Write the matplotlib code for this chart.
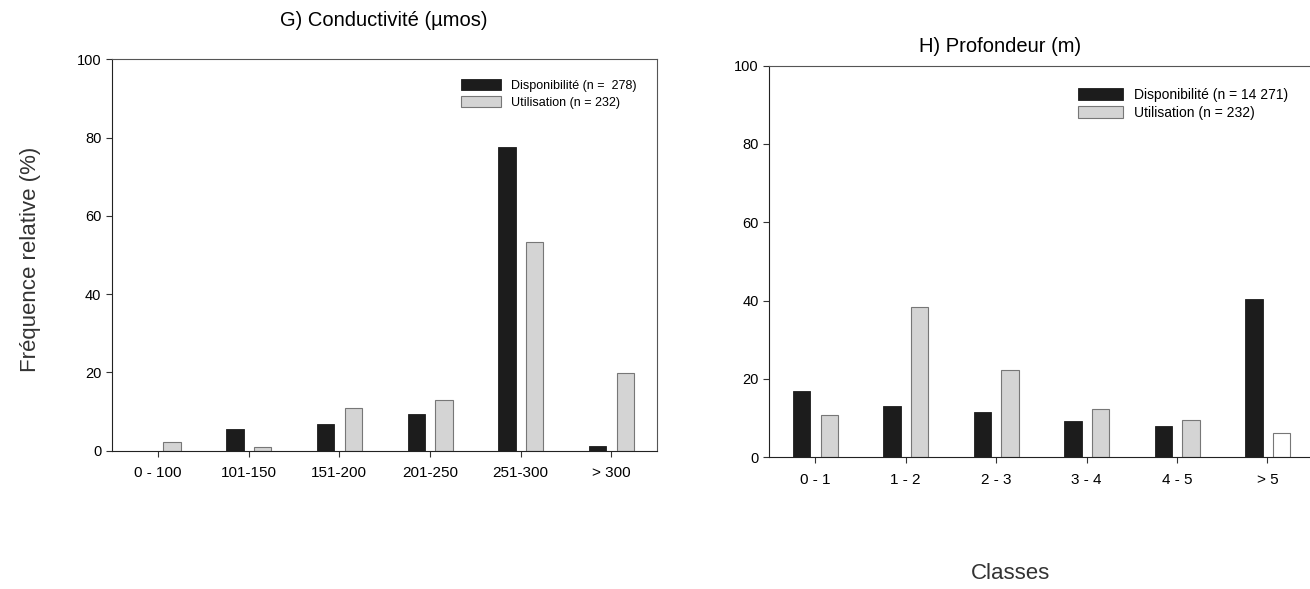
import numpy as np
import matplotlib.pyplot as plt

plt.rcParams['font.family'] = ['Liberation Sans', 'DejaVu Sans']

# G) Conductivité
classes_g = ['0 - 100', '101-150', '151-200', '201-250', '251-300', '> 300']
dispo_g = [0, 5.5, 6.8, 9.5, 77.5, 1.2]
util_g = [2.3, 1.0, 11.0, 13.0, 53.3, 19.8]

# H) Profondeur
classes_h = ['0 - 1', '1 - 2', '2 - 3', '3 - 4', '4 - 5', '> 5']
dispo_h = [17.0, 13.0, 11.5, 9.3, 8.1, 40.5]
util_h = [10.8, 38.5, 22.3, 12.4, 9.4, 6.2]

fig = plt.figure(figsize=(13.1, 5.89), dpi=100)
ax1 = fig.add_axes([0.0853, 0.2348, 0.416, 0.6645])
ax2 = fig.add_axes([0.587, 0.2236, 0.413, 0.665])

larg = 0.19
gris = '#d4d4d4'


def trace(ax, classes, dispo, util, lab_dispo, couleurs_util, taille_leg):
    x = np.arange(len(classes))
    ax.bar(x - 0.15, dispo, larg, color='#1c1c1c', edgecolor='#1c1c1c',
           linewidth=0.6, label=lab_dispo)
    ax.bar(x + 0.155, util, larg, color=couleurs_util, edgecolor='#777777',
           linewidth=0.8, label='Utilisation (n = 232)')
    ax.set_ylim(0, 100)
    ax.set_yticks([0, 20, 40, 60, 80, 100])
    ax.set_xticks(x)
    ax.set_xticklabels(classes)
    ax.tick_params(length=4, width=0.8, color='#333333')
    ax.tick_params(axis='y', labelsize=10.5)
    ax.tick_params(axis='x', labelsize=11, pad=7)
    for s in ax.spines.values():
        s.set_linewidth(0.8)
        s.set_color('#555555')
    ax.spines['left'].set_color('#222222')
    ax.spines['bottom'].set_color('#222222')
    ax.legend(loc='upper right', frameon=False, fontsize=taille_leg,
              handlelength=3.2, handleheight=1.0, borderaxespad=1.2,
              labelspacing=0.3)


trace(ax1, classes_g, dispo_g, util_g, 'Disponibilité (n =  278)', gris, 9)
ax1.set_xlim(-0.51, 5.5)
ax1.set_title('G) Conductivité (µmos)', fontsize=14.5, pad=24)

trace(ax2, classes_h, dispo_h, util_h, 'Disponibilité (n = 14 271)',
      [gris] * 5 + ['white'], 10)
ax2.set_xlim(-0.51, 5.47)
ax2.spines['right'].set_visible(False)
fig.text(1000 / 1310, 1 - 47 / 589, 'H) Profondeur (m)', fontsize=14.5,
         ha='center', va='center')

fig.text(0.023, 0.56, 'Fréquence relative (%)', rotation=90,
         fontsize=16, ha='center', va='center', color='#333333')
fig.text(0.771, 0.027, 'Classes', fontsize=16, ha='center', va='center',
         color='#333333')

plt.savefig('out.png')
